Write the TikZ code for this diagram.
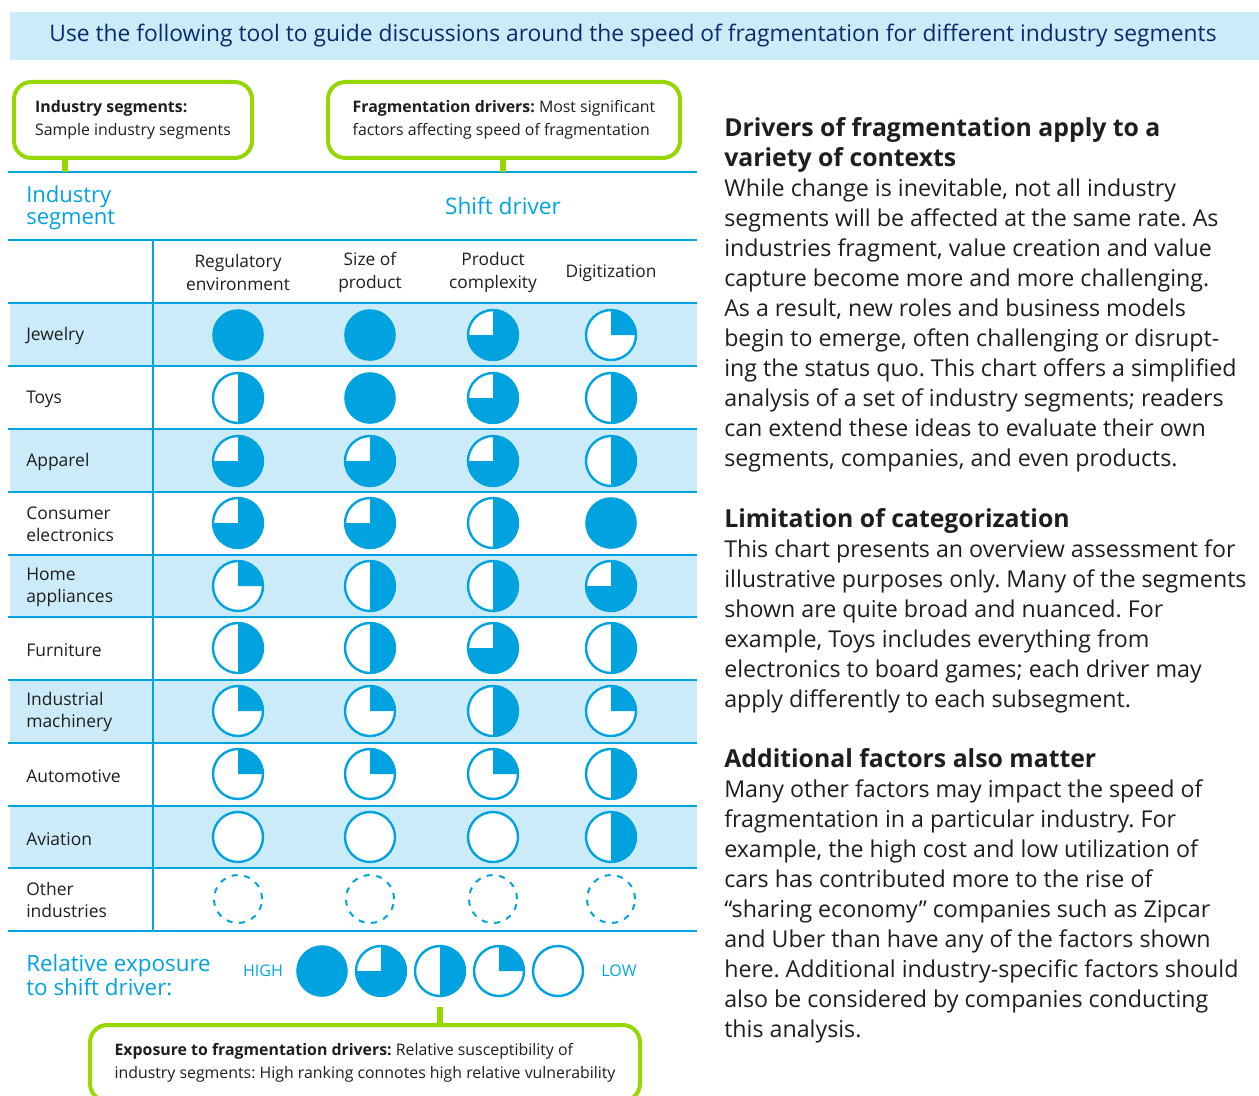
\documentclass[tikz,border=0pt]{standalone}
\usepackage{fontspec}
\setmainfont{Open Sans}
\usetikzlibrary{positioning}
\frenchspacing

\definecolor{dblue}{RGB}{0,163,224}
\definecolor{lblue}{RGB}{204,235,248}
\definecolor{dgreen}{RGB}{151,215,0}
\definecolor{navy}{RGB}{8,42,110}
\definecolor{ink}{RGB}{30,30,30}

\newcommand{\sechead}[1]{{\fontsize{18.6}{22.5}\selectfont\bfseries #1}}

\tikzset{
  rule/.style={draw=dblue, line width=2.2pt},
  callout/.style={draw=dgreen, line width=3pt, rounded corners=13pt, fill=white, anchor=north west,
    align=left, text=ink, font=\fontsize{11.9}{17.25}\selectfont, minimum height=57pt, inner sep=0pt},
  stem/.style={draw=dgreen, line width=4.5pt},
  rowlab/.style={anchor=west, align=left, text=ink, font=\fontsize{13.1}{16.5}\selectfont},
  colhead/.style={align=center, text=ink, font=\fontsize{13}{17.25}\selectfont},
  bluetxt/.style={text=dblue, align=left},
  para/.style={anchor=north west, align=left, text=ink, inner sep=0pt, font=\fontsize{17.4}{22.5}\selectfont},
  hbase/.style={draw=dblue, line width=1.8pt, fill=white},
  hb0/.pic={\draw[hbase] (0,0) circle (25);},
  hb1/.pic={\draw[hbase] (0,0) circle (25);
    \fill[dblue] (0,0) -- (0,25) arc[start angle=90, end angle=0, radius=25] -- cycle;},
  hb2/.pic={\draw[hbase] (0,0) circle (25);
    \fill[dblue] (0,25) arc[start angle=90, end angle=-90, radius=25] -- cycle;},
  hb3/.pic={\draw[hbase] (0,0) circle (25);
    \fill[dblue] (0,0) -- (0,25) arc[start angle=90, end angle=-180, radius=25] -- cycle;},
  hb4/.pic={\fill[dblue] (0,0) circle (25.8);},
  hbx/.pic={\draw[dblue, line width=1.5pt, dash pattern=on 4.5pt off 5pt] (0,0) circle (24);}
}

\begin{document}
\begin{tikzpicture}[x=0.75pt,y=0.75pt,yscale=-1,xscale=1]
\useasboundingbox (0,0) rectangle (1259,1095);

%Shape: Rectangle [id:banner]
\fill[lblue] (10,12) rectangle (1259,60);
% Text Node
\draw (633,36) node [text=navy, font=\fontsize{17.1}{19}\selectfont][inner sep=0.75pt] (title) {Use the following tool to guide discussions around the speed of fragmentation for different industry segments};

%Shape: Row shading
\fill[lblue] (10,303) rectangle (697,366);
\fill[lblue] (10,429) rectangle (697,492);
\fill[lblue] (10,555) rectangle (697,617);
\fill[lblue] (10,680) rectangle (697,743);
\fill[lblue] (10,806) rectangle (697,868);

%Straight Lines: table rules
\draw[rule] (8,172) -- (697,172);
\draw[rule] (8,240) -- (697,240);
\draw[rule] (8,303) -- (697,303);
\draw[rule] (8,366) -- (697,366);
\draw[rule] (8,429) -- (697,429);
\draw[rule] (8,492) -- (697,492);
\draw[rule] (8,555) -- (697,555);
\draw[rule] (8,617) -- (697,617);
\draw[rule] (8,680) -- (697,680);
\draw[rule] (8,743) -- (697,743);
\draw[rule] (8,806) -- (697,806);
\draw[rule] (8,868) -- (697,868);
\draw[rule] (8,931) -- (697,931);
\draw[rule] (153,240) -- (153,932);

%Callouts
\coordinate (segtip) at (65,172);
\coordinate (drvtip) at (503,172);
\draw (12,80) node [callout, minimum width=178.5pt] (segbox) {\textbf{Industry segments:}\\Sample industry segments};
\draw (326,80) node [callout, minimum width=264pt] (drvbox) {\textbf{Fragmentation drivers:} Most significant\\factors affecting speed of fragmentation};
\draw[stem] (segtip |- segbox.south) -- (segtip);
\draw[stem] (drvtip |- drvbox.south) -- (drvtip);

% Text Node
\draw (25,208) node [bluetxt, anchor=west, font=\fontsize{16.5}{16.5}\selectfont][inner sep=0.75pt] (seghead) {Industry\\segment};
\draw (503,206) node [bluetxt, font=\fontsize{17}{16.5}\selectfont][inner sep=0.75pt] (drvhead) {Shift driver};

% Column heads
\draw (238,272) node [colhead] (reg) {Regulatory\\environment};
\draw (370,272) node [colhead] (size) {Size of\\product};
\draw (493,272) node [colhead] (cmplx) {Product\\complexity};
\draw (611,273) node [colhead] (digi) {Digitization};

% Row labels
\draw (25,336) node [rowlab][inner sep=0.75pt] (jewel) {Jewelry};
\draw (25,399) node [rowlab][inner sep=0.75pt] (toys) {Toys};
\draw (25,462) node [rowlab][inner sep=0.75pt] (appar) {Apparel};
\draw (25,524) node [rowlab][inner sep=0.75pt] (cons) {Consumer\\electronics};
\draw (25,587) node [rowlab][inner sep=0.75pt] (home) {Home\\appliances};
\draw (25,650) node [rowlab][inner sep=0.75pt] (furn) {Furniture};
\draw (25,712) node [rowlab][inner sep=0.75pt] (indus) {Industrial\\machinery};
\draw (25,776) node [rowlab][inner sep=0.75pt] (auto) {Automotive};
\draw (25,839) node [rowlab][inner sep=0.75pt] (avia) {Aviation};
\draw (25,900) node [rowlab][inner sep=0.75pt] (other) {Other\\industries};

% Harvey balls
\pic at (238,335) {hb4}; \pic at (370,335) {hb4}; \pic at (493,335) {hb3}; \pic at (611,335) {hb1};
\pic at (238,398) {hb2}; \pic at (370,398) {hb4}; \pic at (493,398) {hb3}; \pic at (611,398) {hb2};
\pic at (238,461) {hb3}; \pic at (370,461) {hb3}; \pic at (493,461) {hb3}; \pic at (611,461) {hb2};
\pic at (238,523) {hb3}; \pic at (370,523) {hb3}; \pic at (493,523) {hb2}; \pic at (611,523) {hb4};
\pic at (238,586) {hb1}; \pic at (370,586) {hb2}; \pic at (493,586) {hb2}; \pic at (611,586) {hb3};
\pic at (238,648) {hb2}; \pic at (370,648) {hb2}; \pic at (493,648) {hb3}; \pic at (611,648) {hb2};
\pic at (238,711) {hb1}; \pic at (370,711) {hb1}; \pic at (493,711) {hb2}; \pic at (611,711) {hb1};
\pic at (238,774) {hb1}; \pic at (370,774) {hb1}; \pic at (493,774) {hb1}; \pic at (611,774) {hb2};
\pic at (238,837) {hb0}; \pic at (370,837) {hb0}; \pic at (493,837) {hb0}; \pic at (611,837) {hb2};
\pic at (238,899) {hbx}; \pic at (370,899) {hbx}; \pic at (493,899) {hbx}; \pic at (611,899) {hbx};

% Legend
\draw (25,975) node [bluetxt, anchor=west, font=\fontsize{16.8}{16.5}\selectfont][inner sep=0.75pt] (relexp) {Relative exposure\\to shift driver:};
\draw (263,971) node [text=dblue, font=\fontsize{12}{14}\selectfont][inner sep=0.75pt] (high) {HIGH};
\pic at (322,971) {hb4}; \pic at (381,971) {hb3}; \pic at (440,971) {hb2}; \pic at (499,971) {hb1}; \pic at (558,971) {hb0};
\draw (619,971) node [text=dblue, font=\fontsize{12}{14}\selectfont][inner sep=0.75pt] (low) {LOW};

% Bottom callout
\coordinate (exptip) at (440,1007);
\draw (88,1023) node [callout, minimum width=412.5pt] (expbox) {\textbf{Exposure to fragmentation drivers:} Relative susceptibility of\\industry segments: High ranking connotes high relative vulnerability};
\draw[stem] (exptip) -- (exptip |- expbox.north);

% Right column text
\draw (724,117) node [para] (drivers) {\sechead{Drivers of fragmentation apply to a}\\\sechead{variety of contexts}\\While change is inevitable, not all industry\\segments will be affected at the same rate. As\\industries fragment, value creation and value\\capture become more and more challenging.\\As a result, new roles and business models\\begin to emerge, often challenging or disrupt-\\ing the status quo. This chart offers a simplified\\analysis of a set of industry segments; readers\\can extend these ideas to evaluate their own\\segments, companies, and even products.};
\draw (724,508) node [para] (limits) {\sechead{Limitation of categorization}\\This chart presents an overview assessment for\\illustrative purposes only. Many of the segments\\shown are quite broad and nuanced. For\\example, Toys includes everything from\\electronics to board games; each driver may\\apply differently to each subsegment.};
\draw (724,748) node [para] (extra) {\sechead{Additional factors also matter}\\Many other factors may impact the speed of\\fragmentation in a particular industry. For\\example, the high cost and low utilization of\\cars has contributed more to the rise of\\``sharing economy'' companies such as Zipcar\\and Uber than have any of the factors shown\\here. Additional industry-specific factors should\\also be considered by companies conducting\\this analysis.};

\end{tikzpicture}
\end{document}
